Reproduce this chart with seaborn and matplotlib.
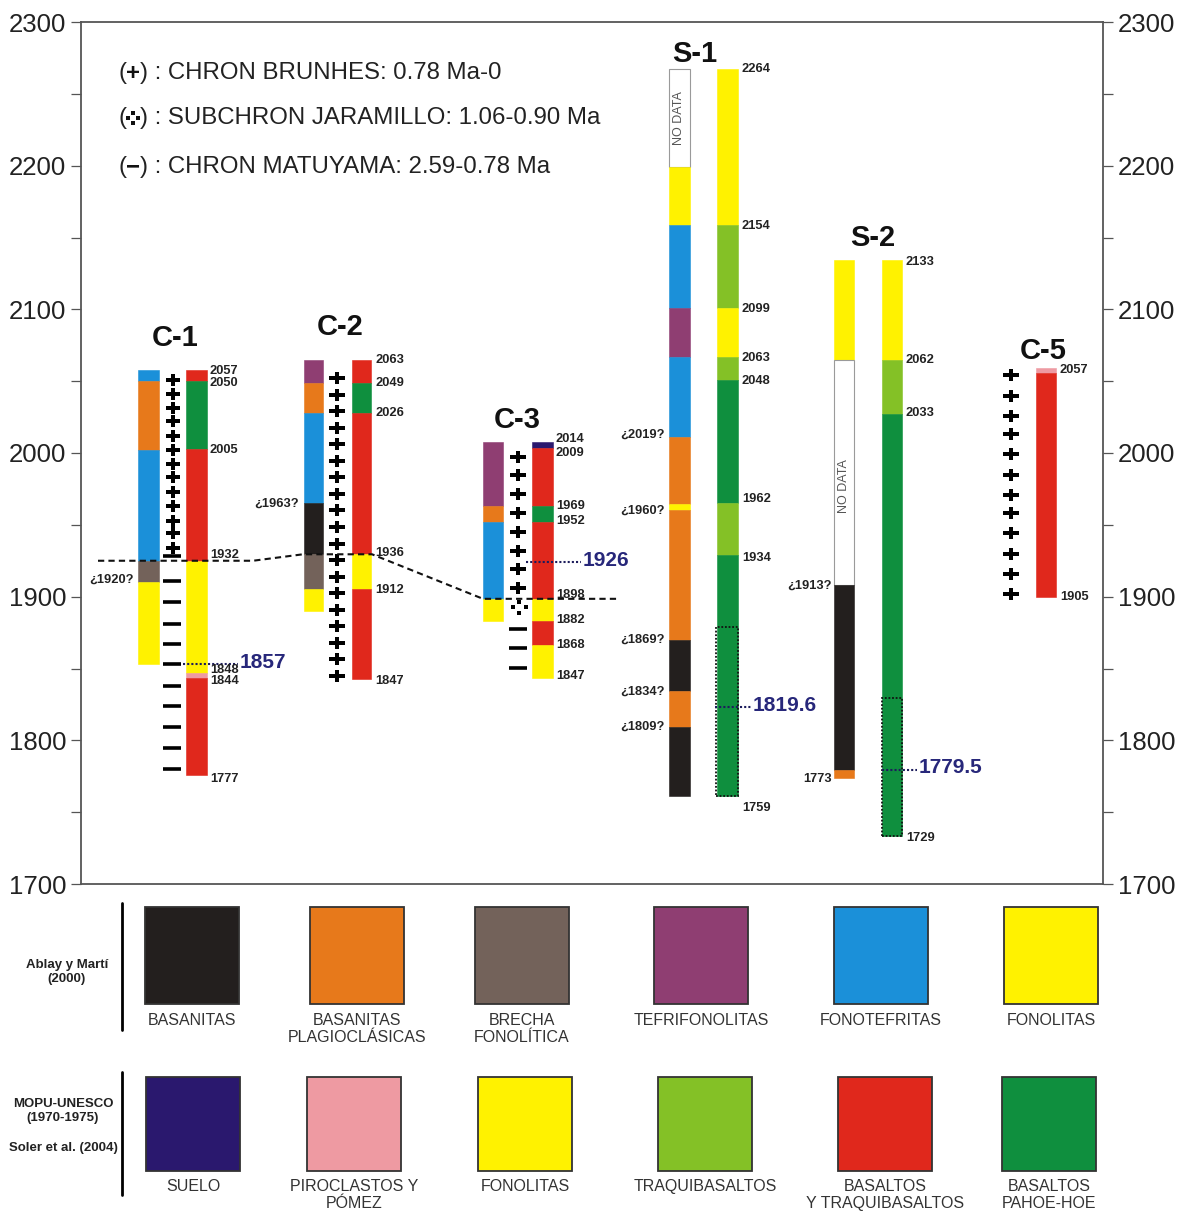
import matplotlib
matplotlib.use("Agg")
import matplotlib.pyplot as plt
from matplotlib.markers import MarkerStyle
import seaborn as sns
import pandas as pd

sns.set_theme(style="white")
plt.rcParams["font.family"] = ["Liberation Sans", "DejaVu Sans"]

# ---------------- lithology colours ----------------
LITHO_COLORS = {
    "BASANITAS": "#231f1e", "BAS_PLAG": "#e7791b", "BRECHA": "#73625a",
    "TEFRI": "#8f3e72", "FONOTEF": "#1b90d9", "FONOLITAS": "#fff200",
    "SUELO": "#2a186e", "PIRO": "#ee9aa2", "TRAQUI": "#84c126",
    "BASALTOS": "#e0281c", "PAHOE": "#0f8f3e", "NODATA": "#ffffff",
}

# ---------------- data (altitude values) ----------------
c1_left_bounds = [2058, 2050, 2002, 1925, 1910, 1853]
c1_left_litho = ["FONOTEF", "BAS_PLAG", "FONOTEF", "BRECHA", "FONOLITAS"]
c1_right_bounds = [2058, 2050, 2003, 1925, 1847, 1843.5, 1776]
c1_right_litho = ["BASALTOS", "PAHOE", "BASALTOS", "FONOLITAS", "PIRO", "BASALTOS"]

c2_left_bounds = [2065, 2049, 2028, 1965, 1930, 1905, 1890]
c2_left_litho = ["TEFRI", "BAS_PLAG", "FONOTEF", "BASANITAS", "BRECHA", "FONOLITAS"]
c2_right_bounds = [2065, 2049, 2028, 1930, 1905, 1843]
c2_right_litho = ["BASALTOS", "PAHOE", "BASALTOS", "FONOLITAS", "BASALTOS"]

c3_left_bounds = [2008, 1963, 1952, 1898.5, 1883]
c3_left_litho = ["TEFRI", "BAS_PLAG", "FONOTEF", "FONOLITAS"]
c3_right_bounds = [2008, 2003.5, 1963, 1952, 1898.5, 1883, 1866.5, 1843.5]
c3_right_litho = ["SUELO", "BASALTOS", "PAHOE", "BASALTOS", "FONOLITAS", "BASALTOS", "FONOLITAS"]

s1_left_bounds = [2267, 2199, 2159, 2101, 2067, 2011, 1964.5, 1960, 1869.5, 1834, 1809.5, 1761]
s1_left_litho = ["NODATA", "FONOLITAS", "FONOTEF", "TEFRI", "FONOTEF", "BAS_PLAG",
                 "FONOLITAS", "BAS_PLAG", "BASANITAS", "BAS_PLAG", "BASANITAS"]
s1_right_bounds = [2267, 2159, 2101, 2067, 2050.5, 1965, 1929, 1761]
s1_right_litho = ["FONOLITAS", "TRAQUI", "FONOLITAS", "TRAQUI", "PAHOE", "TRAQUI", "PAHOE"]
s1_dotted = [1879, 1761]

s2_left_bounds = [2134, 2065, 1908, 1779.5, 1773.5]
s2_left_litho = ["FONOLITAS", "NODATA", "BASANITAS", "BAS_PLAG"]
s2_right_bounds = [2134, 2065, 2027, 1733.5]
s2_right_litho = ["FONOLITAS", "TRAQUI", "PAHOE"]
s2_dotted = [1829.5, 1733.5]

c5_bounds = [2059.5, 2055.5, 1900]
c5_litho = ["PIRO", "BASALTOS"]

# polarity symbols
c1_plus = [2051, 2041, 2031, 2022, 2012, 2002, 1992, 1983, 1973, 1963, 1953, 1944, 1934]
c1_minus = [1928, 1911, 1896, 1881, 1867, 1853, 1838, 1824, 1809, 1795, 1780]
c2_plus = [2052, 2040.5, 2029, 2017.5, 2006, 1994.5, 1983, 1971.5, 1960, 1948.5,
           1937, 1925.5, 1914, 1902.5, 1891, 1879.5, 1868, 1856.5, 1845]
c3_plus = [1997.5, 1984.5, 1971.5, 1958, 1945, 1932, 1919, 1906]
c3_jaramillo = 1892.5
c3_minus = [1877.5, 1864.5, 1850.5]
c5_plus = [2054, 2040, 2026, 2013, 1999, 1985, 1971, 1958, 1944, 1930, 1916, 1902]

# value labels (text, altitude)
c1_labels = [("2057", 2057), ("2050", 2049), ("2005", 2002), ("1932", 1929),
             ("1848", 1849), ("1844", 1841), ("1777", 1773)]
c1_qlabels = [("¿1920?", 1912)]
c2_labels = [("2063", 2065), ("2049", 2048.5), ("2026", 2028), ("1936", 1930.5),
             ("1912", 1904.5), ("1847", 1841)]
c2_qlabels = [("¿1963?", 1964.5)]
c3_labels = [("2014", 2010), ("2009", 2000), ("1969", 1963), ("1952", 1953),
             ("1898", 1901.5), ("1882", 1883.5), ("1868", 1866.5), ("1847", 1845)]
s1_labels = [("2264", 2267), ("2154", 2158), ("2099", 2100), ("2063", 2066),
             ("2048", 2050), ("1962", 1968), ("1934", 1927), ("1759", 1753)]
s1_qlabels = [("¿2019?", 2012.5), ("¿1960?", 1960), ("¿1869?", 1870),
              ("¿1834?", 1834), ("¿1809?", 1809.5)]
s2_labels = [("2133", 2133), ("2062", 2065), ("2033", 2028), ("1729", 1732)]
s2_qlabels = [("¿1913?", 1907.5), ("1773", 1773)]
c5_labels = [("2057", 2058), ("1905", 1900)]

# dated horizons
dates = [("1857", 1853), ("1926", 1924), ("1819.6", 1823), ("1779.5", 1779.5)]
corr_values = [1925, 1925, 1929.5, 1929.5, 1898.5, 1898.5]

y_ticks = [1700, 1800, 1900, 2000, 2100, 2200, 2300]
y_minor = [1750, 1850, 1950, 2050, 2150, 2250]

legend_row1 = [("BASANITAS", "BASANITAS"), ("BAS_PLAG", "BASANITAS\nPLAGIOCLÁSICAS"),
               ("BRECHA", "BRECHA\nFONOLÍTICA"), ("TEFRI", "TEFRIFONOLITAS"),
               ("FONOTEF", "FONOTEFRITAS"), ("FONOLITAS", "FONOLITAS")]
legend_row2 = [("SUELO", "SUELO"), ("PIRO", "PIROCLASTOS Y\nPÓMEZ"),
               ("FONOLITAS", "FONOLITAS"), ("TRAQUI", "TRAQUIBASALTOS"),
               ("BASALTOS", "BASALTOS\nY TRAQUIBASALTOS"), ("PAHOE", "BASALTOS\nPAHOE-HOE")]

# ---------------- figure ----------------
W, H = 1185, 1213
fig = plt.figure(figsize=(W / 100, H / 100), dpi=100)
fig.patch.set_facecolor("white")
ax = fig.add_axes([81 / W, 1 - 884 / H, 1022 / W, 862 / H])
ax.set_xlim(81, 1103)
ax.set_ylim(1700, 2300)

ov = fig.add_axes([0, 0, 1, 1], zorder=5)
ov.set_xlim(0, W)
ov.set_ylim(H, 0)
ov.patch.set_alpha(0)
ov.axis("off")

TXT = "#222222"
NAVY = "#27277a"
BW = 21
LAB_FS = 9.3

# bold plus marker: slightly wider than tall, moderately thin arms
_a, _v = 0.13, 0.39
PLUS = MarkerStyle([(-_a, _v), (_a, _v), (_a, _a), (0.5, _a), (0.5, -_a), (_a, -_a),
                    (_a, -_v), (-_a, -_v), (-_a, -_a), (-0.5, -_a), (-0.5, _a),
                    (-_a, _a), (-_a, _v)])


def draw_column(xc, bounds, lithos, width=BW):
    df = pd.DataFrame({"top": bounds[:-1], "bottom": bounds[1:], "litho": lithos})
    for _, r in df.iterrows():
        nd = r["litho"] == "NODATA"
        ax.bar(xc, r["top"] - r["bottom"], bottom=r["bottom"], width=width,
               color=LITHO_COLORS[r["litho"]],
               edgecolor="#9a9a9a" if nd else LITHO_COLORS[r["litho"]],
               linewidth=0.8 if nd else 0.4, zorder=2)


def dotted_box(xc, rng, width=BW):
    ax.bar(xc, rng[0] - rng[1], bottom=rng[1], width=width, fill=False,
           edgecolor="#111111", linestyle=(0, (1, 1)), linewidth=1.3, zorder=3)


def plus_col(x, vals, s=120):
    sns.scatterplot(x=[x] * len(vals), y=vals, marker=PLUS, s=s, linewidth=0,
                    color="black", ax=ax, zorder=4, legend=False)


def minus_col(x, vals):
    sns.scatterplot(x=[x] * len(vals), y=vals, marker="_", s=170, linewidth=2.6,
                    color="black", ax=ax, zorder=4, legend=False)


def rlabels(x, labs):
    for t, v in labs:
        ax.text(x, v, t, fontsize=LAB_FS, fontweight="bold", color=TXT,
                ha="left", va="center", zorder=6)


def llabels(x, labs):
    for t, v in labs:
        ax.text(x, v, t, fontsize=LAB_FS, fontweight="bold", color=TXT,
                ha="right", va="center", zorder=6)


def title(x, v, t):
    ax.text(x, v, t, fontsize=21, fontweight="bold", color="#111111",
            ha="center", va="center")


# C-1
draw_column(148, c1_left_bounds, c1_left_litho)
draw_column(196, c1_right_bounds, c1_right_litho)
plus_col(173, c1_plus, 105)
minus_col(172, c1_minus)
rlabels(210, c1_labels)
llabels(134, c1_qlabels)
title(175, 2080, "C-1")

# C-2
draw_column(313, c2_left_bounds, c2_left_litho, 19)
draw_column(361, c2_right_bounds, c2_right_litho, 19)
plus_col(337, c2_plus, 120)
rlabels(375, c2_labels)
llabels(299, c2_qlabels)
title(340, 2088, "C-2")

# C-3
draw_column(493, c3_left_bounds, c3_left_litho, 20)
draw_column(542, c3_right_bounds, c3_right_litho)
plus_col(518, c3_plus, 125)
minus_col(518, c3_minus)
jx = [519, 519, 512.5, 525.5]
jy = [c3_jaramillo + 3.8, c3_jaramillo - 3.8, c3_jaramillo, c3_jaramillo]
sns.scatterplot(x=jx, y=jy, marker="s", s=10, color="black", linewidth=0, ax=ax,
                zorder=4, legend=False)
rlabels(556, c3_labels)
title(517, 2023, "C-3")

# S-1
draw_column(679, s1_left_bounds, s1_left_litho)
draw_column(727, s1_right_bounds, s1_right_litho)
dotted_box(727, s1_dotted, 22)
rlabels(742, s1_labels)
llabels(665, s1_qlabels)
ax.text(679, 2233, "NO DATA", rotation=90, fontsize=9, color="#555555",
        ha="center", va="center", zorder=6)
title(695, 2278, "S-1")

# S-2
draw_column(844, s2_left_bounds, s2_left_litho, 20)
draw_column(892, s2_right_bounds, s2_right_litho, 20)
dotted_box(892, s2_dotted, 20)
rlabels(906, s2_labels)
llabels(832, s2_qlabels)
ax.text(844, 1977, "NO DATA", rotation=90, fontsize=9, color="#555555",
        ha="center", va="center", zorder=6)
title(873, 2150, "S-2")

# C-5
draw_column(1046, c5_bounds, c5_litho, 20)
plus_col(1011, c5_plus, 120)
rlabels(1060, c5_labels)
title(1043, 2071, "C-5")

# correlation dashed line
ax.plot([98, 253, 303, 372, 483, 617], corr_values, color="#111111",
        linestyle=(0, (3, 2)), linewidth=1.5, zorder=5)

# dated horizons
date_lines = [(183, 238), (526, 581), (715, 751), (882, 917)]
for (t, v), (x0, x1) in zip(dates, date_lines):
    ax.plot([x0, x1], [v, v], color="#1c1c5c", linestyle=(0, (1, 1)),
            linewidth=1.5, zorder=5)
    ax.text(x1 + 2, v + 1.5, t, fontsize=15, fontweight="bold", color=NAVY,
            ha="left", va="center", zorder=6)

# axes styling
ax.set_yticks(y_ticks)
ax.set_yticks(y_minor, minor=True)
ax.set_xticks([])
ax.tick_params(axis="y", which="both", direction="out", length=7.2, width=0.9,
               color="#555555", left=True, right=True, labelleft=True,
               labelright=True, labelsize=18.5, labelcolor=TXT, pad=3.5)
for s in ax.spines.values():
    s.set_color("#555555")
    s.set_linewidth(1.3)
    s.set_visible(True)
ax.grid(False)

# top-left polarity legend
LEG_FS = 17.3
jara_anchor = None
for yc, sym, rest in [(73, "+", ") : CHRON BRUNHES: 0.78 Ma-0"),
                      (118, "jara", ") : SUBCHRON JARAMILLO: 1.06-0.90 Ma"),
                      (167, "−", ") : CHRON MATUYAMA: 2.59-0.78 Ma")]:
    t1 = ov.text(118, yc, "(", fontsize=LEG_FS, color=TXT, ha="left", va="center")
    t2 = ov.annotate("+" if sym == "jara" else sym, xy=(1, 0.5), xycoords=t1,
                     fontsize=LEG_FS, fontweight="bold", color="#111111",
                     ha="left", va="center", alpha=0 if sym == "jara" else 1)
    ov.annotate(rest, xy=(1, 0), xycoords=(t2, t1), fontsize=LEG_FS, color=TXT,
                ha="left", va="bottom")
    if sym == "jara":
        jara_anchor = t2

fig.canvas.draw()
bb = jara_anchor.get_window_extent(fig.canvas.get_renderer())
cx, cy = ov.transData.inverted().transform(((bb.x0 + bb.x1) / 2, (bb.y0 + bb.y1) / 2))
sns.scatterplot(x=[cx, cx, cx - 5, cx + 5], y=[cy - 5, cy + 5, cy, cy],
                marker="s", s=10, color="#111111", linewidth=0, ax=ov, legend=False)

# lower legend
row1_x = [145, 310, 475, 654, 834, 1004]
row2_x = [146, 307, 478, 658, 838, 1002]
for items, xs, top, hgt, ly in [(legend_row1, row1_x, 907, 97, 1013),
                                (legend_row2, row2_x, 1077, 94, 1179)]:
    for (key, lab), x0 in zip(items, xs):
        ov.bar(x0 + 47, hgt, bottom=top, width=94, color=LITHO_COLORS[key],
               edgecolor="#333333", linewidth=1.3)
        ov.text(x0 + 47, ly, lab, fontsize=11.5, color="#333333", ha="center",
                va="top", multialignment="center", linespacing=1.2)

ov.plot([122, 122], [903, 1030], color="black", linewidth=2)
ov.plot([122, 122], [1072, 1195], color="black", linewidth=2)
ov.text(67, 972, "Ablay y Martí\n(2000)", fontsize=9.5, fontweight="bold",
        color=TXT, ha="center", va="center", multialignment="center")
ov.text(63, 1111, "MOPU-UNESCO\n(1970-1975)", fontsize=9.5, fontweight="bold",
        color=TXT, ha="center", va="center", multialignment="center")
ov.text(63, 1148, "Soler et al. (2004)", fontsize=9.5, fontweight="bold",
        color=TXT, ha="center", va="center")

ov.set_xlim(0, W)
ov.set_ylim(H, 0)
fig.savefig("out.png", dpi=100, facecolor="white")
